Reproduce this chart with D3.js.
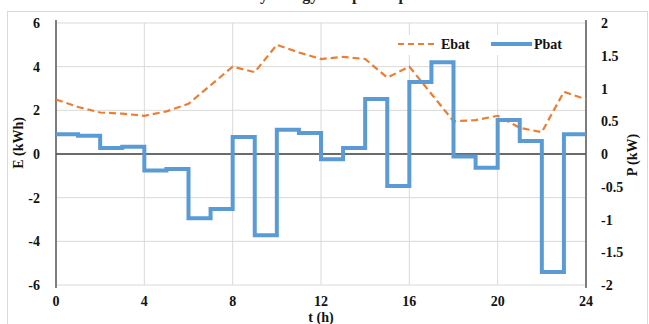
<!DOCTYPE html>
<html>
<head>
<meta charset="utf-8">
<script src="https://cdn.jsdelivr.net/npm/d3@7"></script>
<style>
  body { margin: 0; background: #fff; }
  text { font-family: "Liberation Serif", "DejaVu Serif", serif; font-weight: bold; }
</style>
</head>
<body>
<svg id="chart" width="649" height="324"></svg>
<script>
// Chart data (hourly)
const hours = [0, 1, 2, 3, 4, 5, 6, 7, 8, 9, 10, 11, 12, 13, 14, 15, 16, 17, 18, 19, 20, 21, 22, 23, 24];
// Battery energy, kWh (left axis)
const ebat = [2.5, 2.15, 1.9, 1.85, 1.75, 1.95, 2.3, 3.15, 4.0, 3.75, 5.0, 4.65, 4.35, 4.45, 4.35, 3.5, 4.0, 2.75, 1.5, 1.55, 1.75, 1.2, 1.0, 2.85, 2.5];
// Battery power, kW (right axis), held over each hour
const pbat = [0.3, 0.28, 0.09, 0.11, -0.25, -0.23, -0.98, -0.84, 0.26, -1.24, 0.37, 0.32, -0.08, 0.09, 0.84, -0.49, 1.10, 1.40, -0.04, -0.21, 0.52, 0.20, -1.80, 0.30];

const xTicks = [0, 4, 8, 12, 16, 20, 24];
const eTicks = [-6, -4, -2, 0, 2, 4, 6];
const pTicks = [-2, -1.5, -1, -0.5, 0, 0.5, 1, 1.5, 2];

const svg = d3.select("#chart");

// outer frame
svg.append("rect")
  .attr("x", 7.5).attr("y", 11.5)
  .attr("width", 640).attr("height", 320)
  .attr("fill", "none").attr("stroke", "#d9d9d9");

// title, mostly cut off by the top edge
svg.append("text")
  .attr("x", 330).attr("y", 0)
  .attr("text-anchor", "middle")
  .attr("font-size", 16)
  .attr("fill", "#222")
  .text("Battery energy and power profile");

const x = d3.scaleLinear().domain([0, 24]).range([56, 586]);
const yE = d3.scaleLinear().domain([-6, 6]).range([285, 23]);
const yP = d3.scaleLinear().domain([-2, 2]).range([285, 23]);

// gridlines
svg.append("g").selectAll("line").data(eTicks).enter().append("line")
  .attr("x1", x(0)).attr("x2", x(24))
  .attr("y1", d => yE(d)).attr("y2", d => yE(d))
  .attr("stroke", "#d9d9d9").attr("stroke-width", 1);
svg.append("g").selectAll("line").data(xTicks).enter().append("line")
  .attr("x1", d => x(d)).attr("x2", d => x(d))
  .attr("y1", yE(6)).attr("y2", yE(-6))
  .attr("stroke", "#d9d9d9").attr("stroke-width", 1);

// zero line and the two vertical axes
svg.append("line")
  .attr("x1", x(0)).attr("x2", x(24))
  .attr("y1", yE(0)).attr("y2", yE(0))
  .attr("stroke", "#404040").attr("stroke-width", 1.5);
[0, 24].forEach(t => {
  svg.append("line")
    .attr("x1", x(t)).attr("x2", x(t))
    .attr("y1", yE(6) - 3).attr("y2", yE(-6) + 3)
    .attr("stroke", "#595959").attr("stroke-width", 1.5);
});

// tick labels
svg.append("g").selectAll("text").data(eTicks).enter().append("text")
  .attr("x", 40).attr("y", d => yE(d) + 5)
  .attr("text-anchor", "end").attr("font-size", 14).attr("fill", "#111")
  .text(d => d);
svg.append("g").selectAll("text").data(pTicks).enter().append("text")
  .attr("x", 601).attr("y", d => yP(d) + 5)
  .attr("text-anchor", "start").attr("font-size", 14).attr("fill", "#111")
  .text(d => d);
svg.append("g").selectAll("text").data(xTicks).enter().append("text")
  .attr("x", d => x(d)).attr("y", 306)
  .attr("text-anchor", "middle").attr("font-size", 14).attr("fill", "#111")
  .text(d => d);

// axis titles
svg.append("text")
  .attr("transform", "translate(23,143) rotate(-90)")
  .attr("text-anchor", "middle").attr("font-size", 14).attr("fill", "#111")
  .text("E (kWh)");
svg.append("text")
  .attr("transform", "translate(637,155) rotate(-90)")
  .attr("text-anchor", "middle").attr("font-size", 14).attr("fill", "#111")
  .text("P (kW)");
svg.append("text")
  .attr("x", 321).attr("y", 322)
  .attr("text-anchor", "middle").attr("font-size", 14).attr("fill", "#111")
  .text("t (h)");

// Ebat dashed line
const eLine = d3.line().x((d, i) => x(hours[i])).y(d => yE(d));
svg.append("path").datum(ebat)
  .attr("d", eLine)
  .attr("fill", "none").attr("stroke", "#ED7D31")
  .attr("stroke-width", 2.2).attr("stroke-dasharray", "7,4");

// Pbat step line
const pPoints = pbat.map((v, i) => [hours[i], v]);
pPoints.push([hours[hours.length - 1], pbat[pbat.length - 1]]);
const pLine = d3.line().curve(d3.curveStepAfter).x(d => x(d[0])).y(d => yP(d[1]));
svg.append("path").datum(pPoints)
  .attr("d", pLine)
  .attr("fill", "none").attr("stroke", "#5B9BD5")
  .attr("stroke-width", 4).attr("stroke-linejoin", "miter");

// legend
const legend = svg.append("g");
legend.append("rect")
  .attr("x", 394).attr("y", 35).attr("width", 180).attr("height", 20)
  .attr("fill", "#fff");
legend.append("line")
  .attr("x1", 398).attr("x2", 438).attr("y1", 44).attr("y2", 44)
  .attr("stroke", "#ED7D31").attr("stroke-width", 2).attr("stroke-dasharray", "6,4");
legend.append("text")
  .attr("x", 441).attr("y", 49).attr("font-size", 14).attr("fill", "#111")
  .text("Ebat");
legend.append("line")
  .attr("x1", 491).attr("x2", 532).attr("y1", 44).attr("y2", 44)
  .attr("stroke", "#5B9BD5").attr("stroke-width", 4);
legend.append("text")
  .attr("x", 534).attr("y", 49).attr("font-size", 14).attr("fill", "#111")
  .text("Pbat");
</script>
</body>
</html>
